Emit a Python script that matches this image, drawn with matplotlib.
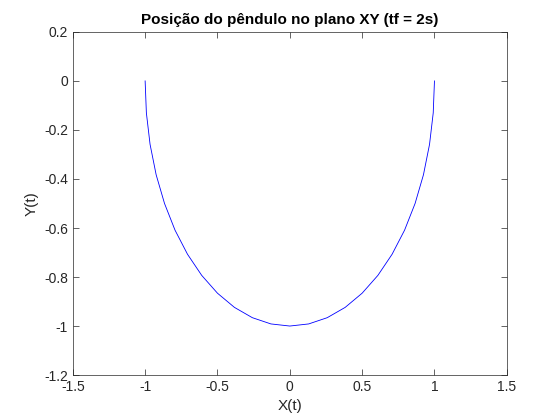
import matplotlib
matplotlib.use("Agg")
import matplotlib.pyplot as plt

plt.rcParams['font.family'] = ['Liberation Sans', 'DejaVu Sans']

# pendulum positions (one half, mirrored below)
x_half = [0.0, 0.1305, 0.2588, 0.3827, 0.5, 0.6088, 0.7071, 0.7934, 0.8660,
          0.9239, 0.9659, 0.9914, 1.0]
y_half = [-1.0, -0.9914, -0.9659, -0.9239, -0.8660, -0.7934, -0.7071, -0.6088,
          -0.5, -0.3827, -0.2588, -0.1305, 0.0]

x_pos = [-v for v in x_half[::-1]] + x_half[1:]
y_pos = y_half[::-1] + y_half[1:]

xticks = [-1.5, -1, -0.5, 0, 0.5, 1, 1.5]
yticks = [-1.2, -1, -0.8, -0.6, -0.4, -0.2, 0, 0.2]

fig = plt.figure(figsize=(5.6, 4.2), dpi=100)
ax = fig.add_axes([0.13, 0.107, 0.775, 0.817])
ax.plot(x_pos, y_pos, color='#0000ff', linewidth=0.6)
ax.set_xlim(-1.5, 1.5)
ax.set_ylim(-1.2, 0.2)
ax.set_xticks(xticks)
ax.set_yticks(yticks)
ax.set_xticklabels(['-1.5', '-1', '-0.5', '0', '0.5', '1', '1.5'])
ax.set_yticklabels(['-1.2', '-1', '-0.8', '-0.6', '-0.4', '-0.2', '0', '0.2'])
ax.tick_params(direction='in', top=True, right=True, labelsize=10, colors='#262626', width=0.5, length=4)
for s in ax.spines.values():
    s.set_linewidth(0.5)
    s.set_color('#262626')
ax.set_xlabel('X(t)', fontsize=11, color='#262626')
ax.set_ylabel('Y(t)', fontsize=11, color='#262626')
ax.set_title('Posição do pêndulo no plano XY (tf = 2s)', fontsize=11, fontweight='bold')
fig.savefig('out.png', dpi=100)
